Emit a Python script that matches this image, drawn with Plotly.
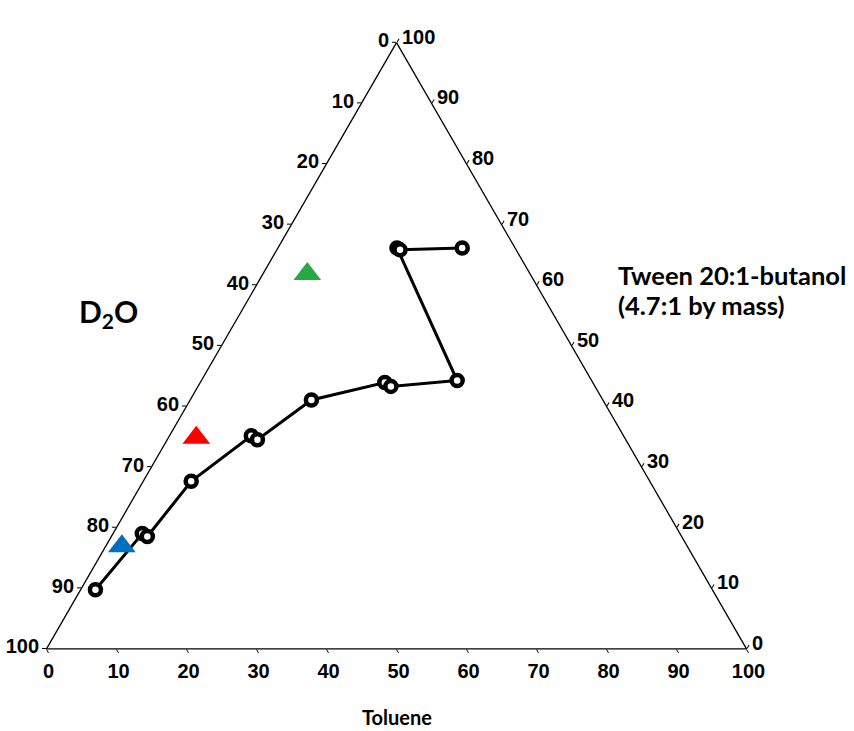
import plotly.graph_objects as go

# Phase-boundary points (percent): Tween 20:1-butanol, Toluene; D2O = remainder
tween = [9.74, 19.01, 18.53, 27.64, 35.14, 34.50, 41.05, 43.93, 43.29, 44.25, 66.13, 65.81, 66.13]
toluene = [2.12, 4.18, 5.14, 6.85, 11.69, 12.88, 17.32, 26.37, 27.55, 36.54, 17.00, 17.60, 26.32]
d2o = [round(100 - a - c, 2) for a, c in zip(tween, toluene)]

# Sample compositions (triangles)
s_tween = [16.93, 34.82, 61.82]
s_toluene = [2.30, 3.99, 6.35]
s_d2o = [round(100 - a - c, 2) for a, c in zip(s_tween, s_toluene)]
s_colors = ["#0070C0", "#FF0000", "#27A844"]

ticks = list(range(0, 101, 10))
rev_labels = [str(100 - t) for t in ticks]

fig = go.Figure()
fig.add_trace(go.Scatterternary(
    a=tween, b=d2o, c=toluene,
    mode="lines+markers",
    line=dict(color="black", width=3),
    marker=dict(symbol="circle", size=11, color="white",
                line=dict(color="black", width=4.5)),
    showlegend=False, cliponaxis=False,
))
fig.add_trace(go.Scatterternary(
    a=s_tween, b=s_d2o, c=s_toluene,
    mode="markers",
    marker=dict(symbol="triangle-up", size=24, color=s_colors, line=dict(width=0)),
    showlegend=False, cliponaxis=False,
))

tickfont = dict(family="Arial", size=20, color="black", weight="bold")
axis_common = dict(
    showgrid=False, linecolor="black", linewidth=1.3,
    ticks="outside", ticklen=4, tickcolor="black", tickwidth=1.3,
    tickmode="array", tickvals=ticks, ticktext=rev_labels,
    tickfont=tickfont, title=dict(text=""), min=0,
)

fig.update_layout(
    width=854, height=731,
    margin=dict(l=0, r=0, t=0, b=0),
    paper_bgcolor="white",
    ternary=dict(
        sum=100,
        bgcolor="white",
        domain=dict(x=[46.5 / 854, 746.5 / 854], y=[0.11218, 0.9420]),
        aaxis=axis_common,
        baxis=axis_common,
        caxis=axis_common,
    ),
    annotations=[
        dict(text="<b>D<sub>2</sub>O</b>", x=108 / 854, y=0.572, xref="paper", yref="paper",
             showarrow=False, xanchor="center", yanchor="middle",
             font=dict(family="Lato", size=30, color="black")),
        dict(text="<b>Tween 20:1-butanol</b>", x=616 / 854, y=(731 - 275) / 731,
             xref="paper", yref="paper", showarrow=False, xanchor="left", yanchor="middle",
             align="left", font=dict(family="Lato", size=25.5, color="black")),
        dict(text="<b>(4.7:1 by mass)</b>", x=616 / 854, y=(731 - 305) / 731,
             xref="paper", yref="paper", showarrow=False, xanchor="left", yanchor="middle",
             align="left", font=dict(family="Lato", size=25.5, color="black")),
        dict(text="<b>Toluene</b>", x=397 / 854, y=0.0192, xref="paper", yref="paper",
             showarrow=False, xanchor="center", yanchor="middle",
             font=dict(family="Lato", size=20, color="black")),
    ],
)

fig.write_html("out.html")
